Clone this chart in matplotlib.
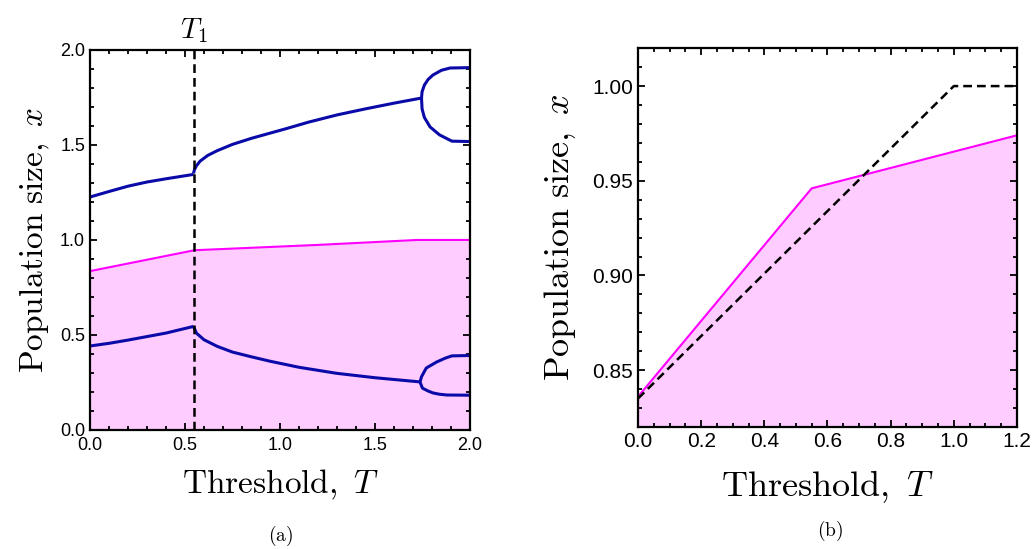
import matplotlib.pyplot as plt
import numpy as np
from matplotlib.ticker import MultipleLocator

plt.rcParams['font.family'] = ['Liberation Sans', 'DejaVu Sans']
plt.rcParams['mathtext.fontset'] = 'cm'

# threshold where the dashed line sits
T1 = 0.545

# magenta curve (upper bound of shaded region)
mag_T = [0.0, 0.55, 1.2, 1.72, 2.0]
mag_x = [0.836, 0.946, 0.974, 1.0, 1.0]

# dashed line in panel (b)
dash_T = [0.0, 1.0, 1.2]
dash_x = [0.835, 1.0, 1.0]

# blue attractor branches, panel (a)
up_pre_T = [0.0, 0.1, 0.2, 0.3, 0.4, 0.545]
up_pre_x = [1.226, 1.255, 1.283, 1.305, 1.322, 1.345]
up_post_T = [0.545, 0.55, 0.56, 0.58, 0.62, 0.67, 0.75, 0.85, 0.947, 1.03, 1.15, 1.3, 1.45, 1.6, 1.745]
up_post_x = [1.35, 1.37, 1.39, 1.415, 1.445, 1.47, 1.503, 1.535, 1.562, 1.585, 1.62, 1.658, 1.69, 1.72, 1.747]
up_hi_T = [1.745, 1.748, 1.76, 1.78, 1.805, 1.85, 1.895, 2.0]
up_hi_x = [1.747, 1.78, 1.815, 1.845, 1.868, 1.893, 1.905, 1.907]
up_lo_T = [1.745, 1.748, 1.76, 1.79, 1.84, 1.905, 2.0]
up_lo_x = [1.747, 1.69, 1.645, 1.595, 1.553, 1.52, 1.518]

lo_pre_T = [0.0, 0.1, 0.2, 0.27, 0.4, 0.545]
lo_pre_x = [0.442, 0.456, 0.473, 0.486, 0.51, 0.545]
lo_post_T = [0.545, 0.56, 0.6, 0.67, 0.75, 0.85, 0.947, 1.1, 1.3, 1.5, 1.737]
lo_post_x = [0.545, 0.51, 0.475, 0.44, 0.41, 0.385, 0.362, 0.33, 0.298, 0.275, 0.253]
lo_hi_T = [1.737, 1.745, 1.77, 1.825, 1.87, 1.905, 2.0]
lo_hi_x = [0.253, 0.28, 0.326, 0.358, 0.378, 0.39, 0.392]
lo_lo_T = [1.737, 1.75, 1.78, 1.805, 1.84, 1.88, 2.0]
lo_lo_x = [0.253, 0.22, 0.205, 0.195, 0.188, 0.184, 0.183]

blue = '#0a0aa8'
pink = '#ffccff'
magenta = '#ff00ff'
dash = (0, (3.5, 2))


def style_axes(ax, xmaj, xmin, ymaj, ymin, size):
    ax.xaxis.set_major_locator(MultipleLocator(xmaj))
    ax.xaxis.set_minor_locator(MultipleLocator(xmin))
    ax.yaxis.set_major_locator(MultipleLocator(ymaj))
    ax.yaxis.set_minor_locator(MultipleLocator(ymin))
    ax.tick_params(which='both', direction='in', top=True, right=True, width=1.3, labelsize=size)
    ax.tick_params(which='major', length=5)
    ax.tick_params(which='minor', length=3)
    for s in ax.spines.values():
        s.set_linewidth(1.6)


fig = plt.figure(figsize=(10.34, 5.49), dpi=100)

# panel (a)
ax1 = fig.add_axes([0.087, 0.2168, 0.3675, 0.6922])
ax1.fill_between(mag_T, 0, mag_x, color=pink, lw=0)
ax1.plot(mag_T, mag_x, color=magenta, lw=1.5)
for bt, bx in [(up_pre_T, up_pre_x), (up_post_T, up_post_x), (up_hi_T, up_hi_x),
               (up_lo_T, up_lo_x), (lo_pre_T, lo_pre_x), (lo_post_T, lo_post_x),
               (lo_hi_T, lo_hi_x), (lo_lo_T, lo_lo_x)]:
    ax1.plot(bt, bx, color=blue, lw=2.2, solid_capstyle='butt')
ax1.axvline(T1, color='black', ls=dash, lw=1.8)
ax1.text(T1, 2.025, r'$T_1$', ha='center', va='bottom', fontsize=21)
ax1.set_xlim(0, 2)
ax1.set_ylim(0, 2)
style_axes(ax1, 0.5, 0.1, 0.5, 0.1, 13)
ax1.tick_params(axis='x', pad=5)
ax1.set_xlabel(r'$\mathrm{Threshold,\ }T$', fontsize=24, labelpad=10)
ax1.set_ylabel(r'$\mathrm{Population\ size,\ }x$', fontsize=24, labelpad=6)

# panel (b)
ax2 = fig.add_axes([0.617, 0.2222, 0.3665, 0.690])
ax2.fill_between(mag_T, 0, mag_x, color=pink, lw=0)
ax2.plot(mag_T, mag_x, color=magenta, lw=1.5)
ax2.plot(dash_T, dash_x, color='black', ls=dash, lw=1.8)
ax2.set_xlim(0, 1.2)
ax2.set_ylim(0.82, 1.02)
style_axes(ax2, 0.2, 0.05, 0.05, 0.01, 15)
ax2.set_xlabel(r'$\mathrm{Threshold,\ }T$', fontsize=26, labelpad=12)
ax2.set_ylabel(r'$\mathrm{Population\ size,\ }x$', fontsize=26, labelpad=10)

fig.text(0.271, 0.024, r'$\mathrm{(a)}$', ha='center', va='center', fontsize=14)
fig.text(0.803, 0.032, r'$\mathrm{(b)}$', ha='center', va='center', fontsize=14)

fig.savefig('out.png', dpi=100)
